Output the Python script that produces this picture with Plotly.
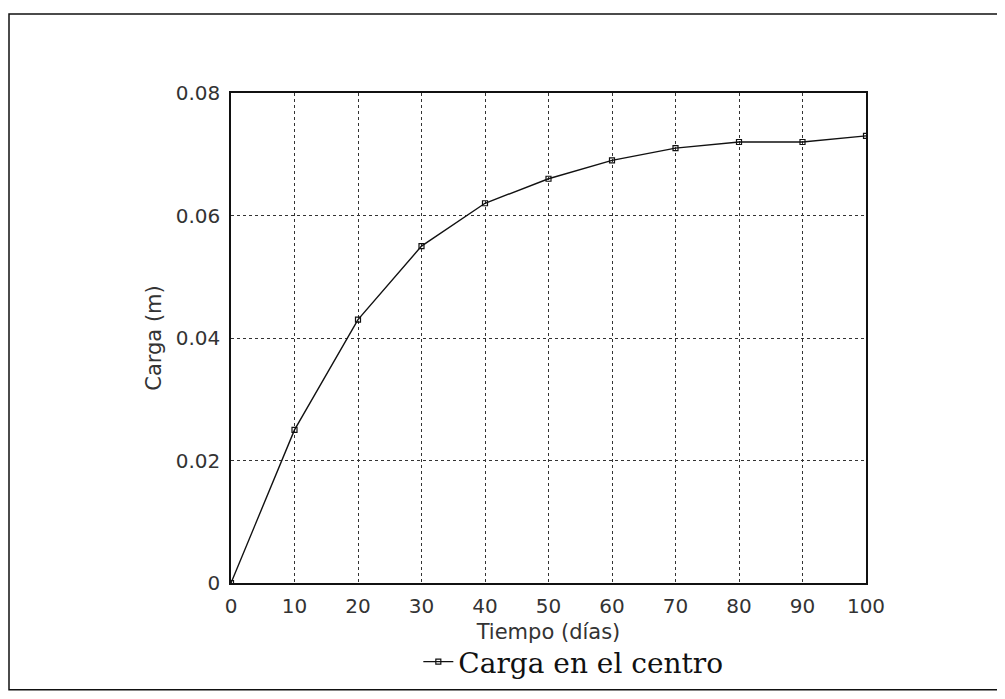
import plotly.graph_objects as go

tiempo = [0, 10, 20, 30, 40, 50, 60, 70, 80, 90, 100]
carga = [0.0, 0.025, 0.043, 0.055, 0.062, 0.066, 0.069, 0.071, 0.072, 0.072, 0.073]
x_ticks = [0, 10, 20, 30, 40, 50, 60, 70, 80, 90, 100]
y_ticks = [0, 0.02, 0.04, 0.06, 0.08]
y_tick_labels = ["0", "0.02", "0.04", "0.06", "0.08"]

# page has an 8px body margin, so the figure is slightly smaller than the window
W, H = 997, 691
L, T = 223, 85
PW, PH = 635, 496
R, B = W - L - PW, H - T - PH

fig = go.Figure()
fig.add_trace(go.Scatter(
    x=tiempo, y=carga, mode="lines+markers", name="Carga en el centro",
    line=dict(color="#111111", width=1.4),
    marker=dict(symbol="square-open", size=5, color="#111111", line=dict(width=1.2)),
))

tick_font = dict(family="DejaVu Sans", size=20, color="#333333")
title_font = dict(family="DejaVu Sans", size=21, color="#333333")
fig.update_layout(
    width=W, height=H,
    margin=dict(l=L, r=R, t=T, b=B),
    paper_bgcolor="white", plot_bgcolor="white",
    showlegend=True,
    legend=dict(orientation="h", x=0.295, y=-0.212, xanchor="left", yanchor="bottom",
                font=dict(family="DejaVu Serif", size=28, color="#111111"),
                bgcolor="rgba(0,0,0,0)"),
    xaxis=dict(range=[0, 100], tickvals=x_ticks, ticktext=[str(v) for v in x_ticks],
               showgrid=True, gridcolor="#333333", griddash="dot", gridwidth=1,
               showline=True, linecolor="#111111", linewidth=1.5, mirror=True,
               ticks="outside", ticklen=4, tickcolor="rgba(0,0,0,0)",
               zeroline=False, tickfont=tick_font,
               title=dict(text="Tiempo (días)", font=title_font, standoff=8)),
    yaxis=dict(range=[0, 0.08], tickvals=y_ticks, ticktext=y_tick_labels,
               showgrid=True, gridcolor="#333333", griddash="dot", gridwidth=1,
               showline=True, linecolor="#111111", linewidth=1.5, mirror=True,
               ticks="outside", ticklen=5, tickcolor="rgba(0,0,0,0)",
               zeroline=False, tickfont=tick_font,
               title=dict(text="Carga (m)", font=title_font, standoff=8)),
    font=dict(family="DejaVu Sans", color="#333333"),
)

# outer frame of the figure
fig.add_shape(type="rect", xref="paper", yref="paper",
              x0=(1 - L) / PW, x1=(995 - L) / PW,
              y0=-(689 - (T + PH)) / PH, y1=1 + (T - 5) / PH,
              line=dict(color="#111111", width=1.5), layer="below")

fig.write_html("out.html")
